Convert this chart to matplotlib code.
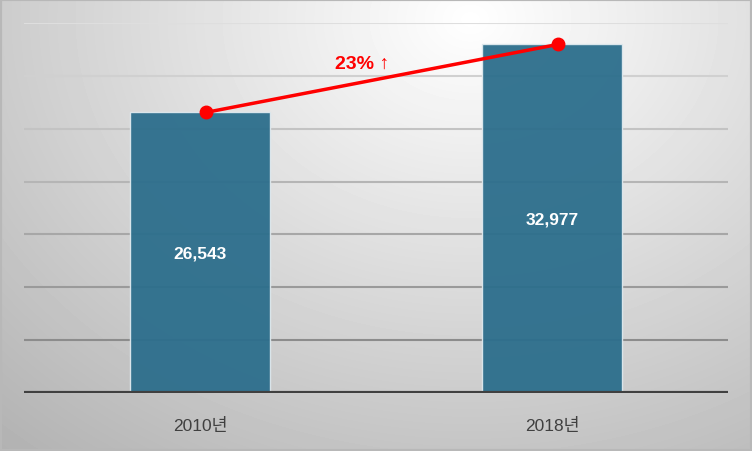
import numpy as np
import matplotlib
matplotlib.use("Agg")
import matplotlib.pyplot as plt
from matplotlib.patches import Rectangle

plt.rcParams['font.family'] = ['Liberation Sans', 'Noto Sans CJK KR', 'DejaVu Sans']

# Data
categories = ["2010년", "2018년"]
values = [26543, 32977]
value_labels = ["26,543", "32,977"]
growth_label = "23% ↑"
grid_ticks = [5000, 10000, 15000, 20000, 25000, 30000, 35000]

W, H, DPI = 7.52, 4.52, 100
fig = plt.figure(figsize=(W, H), dpi=DPI)

# Radial gradient background
bg = fig.add_axes([0, 0, 1, 1], zorder=-10)
yy, xx = np.mgrid[0:452, 0:752]
cx, cy = 470, 20
dist = np.sqrt(((xx - cx) / 752) ** 2 + ((yy - cy) / 452 * 0.75) ** 2)
shade = np.clip(1.0 - 0.32 * dist, 0, 1)
bg.imshow(shade, cmap="gray", vmin=0, vmax=1, aspect="auto",
          extent=[0, 1, 0, 1], origin="upper")
bg.set_axis_off()
bg.add_patch(Rectangle((0, 0), 1, 1, transform=bg.transAxes, fill=False,
                       edgecolor="#b8b8b8", linewidth=3))

# Plot area
ax = fig.add_axes([24 / 752, 1 - 394 / 452, 704 / 752, 370 / 452])
ax.patch.set_alpha(0)
x = np.arange(len(categories))
ax.set_xlim(-0.5, 1.5)
ax.set_ylim(0, 35000)

# Gridlines, lighter towards the top
for i, t in enumerate(grid_ticks):
    g = 0.55 + 0.32 * i / (len(grid_ticks) - 1)
    ax.axhline(t, color=(g, g, g), linewidth=1.5, zorder=1)

ax.bar(x, values, width=0.4, color="#2c6e8c", alpha=0.95,
       edgecolor="#dfe9ee", linewidth=1, zorder=2)

for xi, v, lab in zip(x, values, value_labels):
    ax.text(xi, v / 2, lab, ha="center", va="center", color="white",
            fontsize=12.5, fontweight="bold", zorder=4)

# Growth line
ax.plot(x + 0.017, values, color="#ff0000", linewidth=2.5, marker="o",
        markersize=9, zorder=5, clip_on=False)
ax.text(0.46, 31150, growth_label, ha="center", va="center",
        color="#ff0000", fontsize=14, fontweight="bold", zorder=5)

ax.axhline(0, color="#404040", linewidth=3, zorder=3)

ax.set_xticks(x)
ax.set_xticklabels(categories, fontsize=12.5, color="#404040")
ax.tick_params(axis="x", length=0, pad=17)
ax.set_yticks([])
for s in ax.spines.values():
    s.set_visible(False)

fig.savefig("out.png", dpi=DPI)
